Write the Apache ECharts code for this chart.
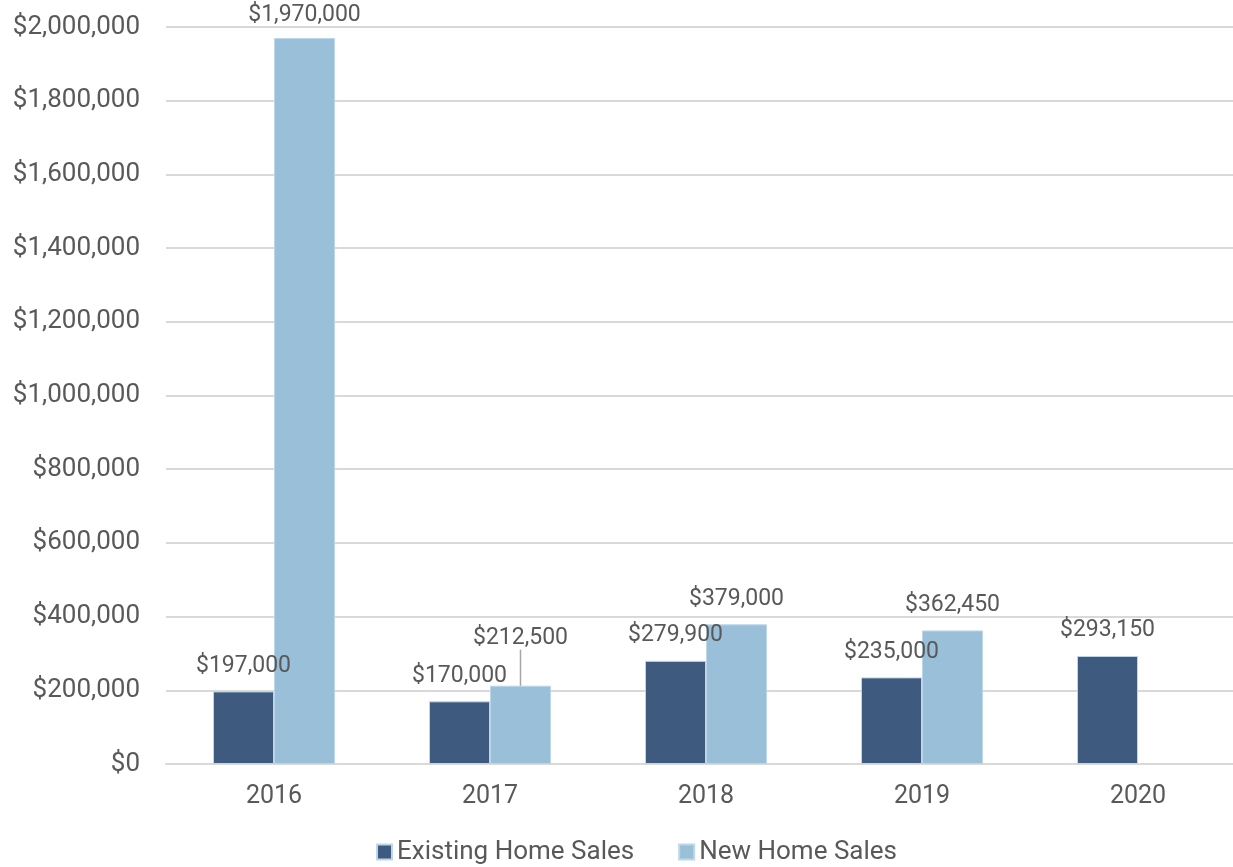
<!DOCTYPE html>
<html>
<head>
<meta charset="utf-8">
<script src="https://cdn.jsdelivr.net/npm/echarts@6/dist/echarts.min.js"></script>
<style>
  html, body { margin: 0; padding: 0; background: #fff; }
  #chart { width: 1233px; height: 867px; }
</style>
</head>
<body>
<div id="chart"></div>
<script>
  const years = ['2016', '2017', '2018', '2019', '2020'];
  const existingSales = [197000, 170000, 279900, 235000, 293150];
  const newSales = [1970000, 212500, 379000, 362450, null];

  const textColor = '#595959';
  const fmt = (v) => '$' + Number(v).toLocaleString('en-US');

  // the 2017 new-home label sits higher, with a leader line
  const newData = newSales.map((v, i) => i === 1
    ? { value: v, labelLine: { show: true } }
    : v);

  const option = {
    textStyle: { fontFamily: 'Roboto' },
    grid: { left: 166, width: 1080, top: 27, bottom: 103, outerBoundsMode: 'none' },
    legend: {
      bottom: -3,
      left: 371,
      icon: 'rect',
      itemWidth: 15,
      itemHeight: 15,
      itemGap: 44,
      textStyle: { color: textColor, fontSize: 26, fontFamily: 'Roboto' },
      data: ['Existing Home Sales', 'New Home Sales']
    },
    xAxis: {
      type: 'category',
      data: years,
      axisLine: { lineStyle: { color: '#d9d9d9', width: 2 } },
      axisTick: { show: false },
      axisLabel: { color: textColor, fontSize: 25, margin: 20 }
    },
    yAxis: {
      type: 'value',
      min: 0,
      max: 2000000,
      interval: 200000,
      axisLine: { show: false },
      axisTick: { show: false },
      axisLabel: { color: textColor, fontSize: 26, margin: 26, formatter: fmt },
      splitLine: { lineStyle: { color: '#d9d9d9', width: 2 } }
    },
    series: [
      {
        name: 'Existing Home Sales',
        type: 'bar',
        barWidth: 61,
        barGap: 0,
        data: existingSales,
        itemStyle: { color: '#3e5a7e', borderColor: '#bcd7ea', borderWidth: 1 },
        label: {
          show: true,
          position: 'top',
          distance: 14,
          color: textColor,
          fontSize: 23,
          formatter: (p) => fmt(p.value)
        }
      },
      {
        name: 'New Home Sales',
        type: 'bar',
        barWidth: 61,
        barGap: 0,
        data: newData,
        itemStyle: { color: '#9ac0d9', borderColor: '#bcd7ea', borderWidth: 1 },
        label: {
          show: true,
          position: 'top',
          distance: 14,
          color: textColor,
          fontSize: 23,
          formatter: (p) => fmt(p.value)
        },
        labelLine: { show: false, lineStyle: { color: '#a6a6a6', width: 1.5 } },
        labelLayout: (p) => {
          if (p.dataIndex === 0) return { dy: 3 };
          if (p.dataIndex === 1) return { dy: -22 };
          return {};
        }
      }
    ]
  };

  const chart = echarts.init(document.getElementById('chart'));
  chart.setOption(option);
</script>
</body>
</html>
